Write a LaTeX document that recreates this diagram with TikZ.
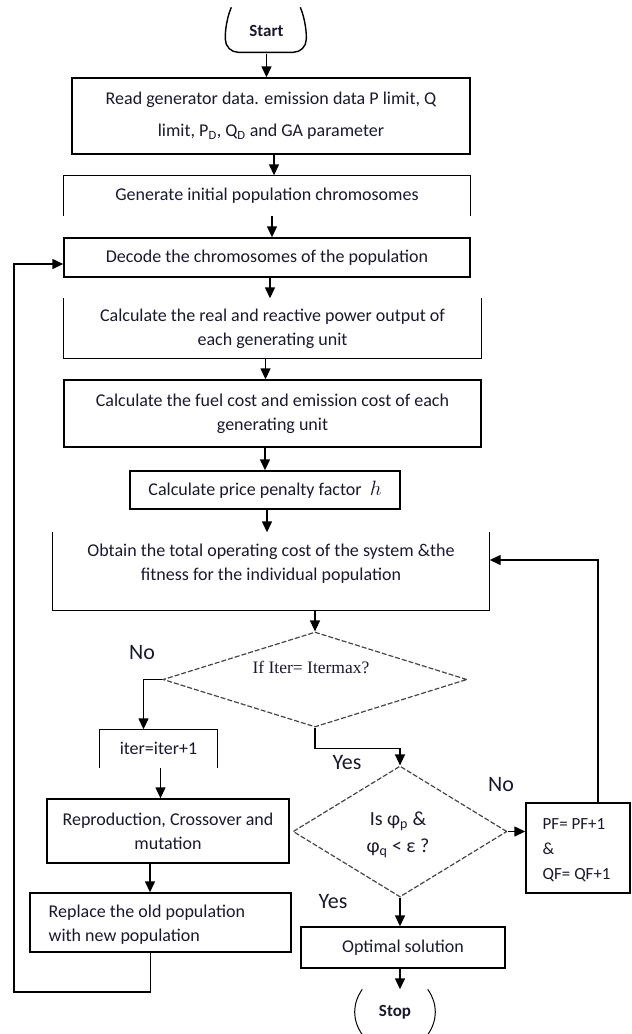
\documentclass[tikz,border=0pt]{standalone}
\usepackage{fontspec}
\setmainfont{Carlito}
\newfontfamily\timesf{Liberation Serif}
\usetikzlibrary{shapes.geometric,arrows.meta}
\definecolor{txt}{RGB}{25,25,45}
\definecolor{dgray}{RGB}{70,70,70}
\begin{document}
\begin{tikzpicture}[x=1pt,y=-1pt,line width=1.4pt,
  box/.style={rectangle,inner sep=0pt,align=center,text=txt,font=\fontsize{18}{24}\selectfont},
  dbox/.style={box,draw},
  dia/.style={diamond,draw=dgray,dashed,dash pattern=on 5pt off 2pt,line width=1.2pt,inner sep=0pt,aspect=1},
  lbl/.style={inner sep=0pt,text=txt,font=\fontsize{22}{26}\selectfont},
  term/.style={box,font=\fontsize{17}{20}\selectfont\bfseries},
  arr/.style={-{Triangle[width=10pt,length=11pt]}}]
\useasboundingbox (0,0) rectangle (632,1034);
% Start / Stop
\node[term,minimum width=81pt,minimum height=45pt] (start) at (266.5,30.5) {Start};
\draw[rounded corners=13pt] (start.north west) ++(6,0) -- ++(-6,16) -- ++(0,29) -- ++(81,0) -- ++(0,-29) -- ++(-6,-16);
\node[term,minimum width=74pt,minimum height=44pt] (stop) at (395,1012) {Stop};
\draw[line width=1pt] ([xshift=5pt]stop.north west) to[bend right=35] ([xshift=5pt]stop.south west);
\draw[line width=1pt] ([xshift=-5pt]stop.north east) to[bend left=35] ([xshift=-5pt]stop.south east);
% boxes
\node[dbox,minimum width=398pt,minimum height=76pt] (b1) at (271,116)
  {Read generator data. emission data P limit, Q\\[8pt] limit, P\textsubscript{D}, Q\textsubscript{D} and GA parameter};
\node[box,minimum width=406pt,minimum height=39pt] (b2) at (267,195.5) {Generate initial population chromosomes};
\draw (b2.south west) -- (b2.north west) -- (b2.north east) -- (b2.south east);
\node[dbox,minimum width=406pt,minimum height=39pt] (b3) at (267,257.5) {Decode the chromosomes of the population};
\node[box,minimum width=417pt,minimum height=59pt] (b4) at (272.5,328.5)
  {Calculate the real and reactive power output of\\ each generating unit};
\draw (b4.north west) -- (b4.south west) -- (b4.south east) -- (b4.north east);
\node[dbox,minimum width=417pt,minimum height=67pt] (b5) at (272.5,413.5)
  {Calculate the fuel cost and emission cost of each\\ generating unit};
\node[dbox,minimum width=270pt,minimum height=38pt] (b6) at (265,490)
  {Calculate price penalty factor \ {\fontsize{21}{24}\selectfont$h$}};
\node[box,minimum width=436pt,minimum height=77pt] (b7) at (271,571.5) {};
\node[box] (b7t) at (271,564) {Obtain the total operating cost of the system \&the\\ fitness for the individual population};
\draw (b7.north west) -- (b7.south west) -- (b7.south east) -- (b7.north east);
% decision 1
\node[dia,minimum width=304pt,minimum height=95pt] (d1) at (315,679.5) {};
\node[inner sep=0pt,text=txt,font=\timesf\fontsize{17.5}{20}\selectfont] (d1t) at (311,667) {If Iter= Itermax?};
\node[box,minimum width=117pt,minimum height=37pt,font=\fontsize{18}{20}\selectfont] (iter) at (158.5,748.5) {iter=iter+1};
\draw (iter.south west) -- (iter.north west) -- (iter.north east) -- (iter.south east);
\node[dbox,minimum width=242pt,minimum height=64pt] (rep) at (168,831)
  {Reproduction, Crossover and\\ mutation};
\node[dbox,minimum width=261pt,minimum height=59pt] (repl) at (160.5,922.5) {};
\node[box,align=left,anchor=west] (replt) at (48,925) {Replace the old population\\ with new population};
% decision 2
\node[dia,minimum width=214pt,minimum height=131pt] (d2) at (400,831.5) {};
\node[box,font=\fontsize{20}{27}\selectfont] (d2t) at (398,834.5) {Is φ\textsubscript{p} \&\\ φ\textsubscript{q} < ε ?};
\node[dbox,minimum width=104pt,minimum height=90pt] (pf) at (578,848) {};
\node[box,align=left,anchor=west,font=\fontsize{17}{25}\selectfont] (pft) at (542,850) {PF= PF+1\\ \&\\ QF= QF+1};
\node[dbox,minimum width=204pt,minimum height=41pt] (opt) at (403,947.5) {Optimal solution};
% labels
\node[lbl] (no1) at (142,653) {No};
\node[lbl] (yes1) at (347,763) {Yes};
\node[lbl] (no2) at (501,785) {No};
\node[lbl] (yes2) at (333,902) {Yes};
% connectors
\draw[arr] (start.south) -- (start.south |- b1.north);
\draw[arr] ([xshift=3pt]b1.south) -- ([xshift=3pt]b1.south |- b2.north);
\draw[arr] ([xshift=5pt]b2.south) -- ([xshift=5pt]b2.south |- b3.north);
\draw[arr] ([xshift=3pt]b3.south) -- ([xshift=3pt]b3.south |- b4.north);
\draw[arr] ([xshift=-7pt]b4.south) -- ([xshift=-7pt]b4.south |- b5.north);
\draw[arr] (b6.north |- b5.south) -- (b6.north);
\draw[arr] ([xshift=2pt]b6.south) -- ([xshift=2pt]b6.south |- b7.north);
\draw[arr] (d1.north |- b7.south) -- (d1.north);
\draw[arr] (d1.west) -| ([xshift=-15pt]iter.north);
\draw[arr] ([xshift=2pt]iter.south) -- ([xshift=2pt]iter.south |- rep.north);
\draw[arr] ([xshift=-18pt]rep.south) -- ([xshift=-18pt]rep.south |- repl.north);
\coordinate (fbl) at (14,992);
\draw[arr] ([xshift=-10pt]repl.south) |- (fbl) |- ([yshift=-6.5pt]b3.west);
\draw[arr] (d1.south) -- ++(0,21) -| (d2.north);
\draw[arr] (d2.east) -- (d2.east -| pf.west);
\draw[arr] ([xshift=20pt]pf.north) |- ([yshift=11.5pt]b7.east);
\draw[arr] (d2.south) -- (d2.south |- opt.north);
\draw[arr] (d2.south |- opt.south) -- (d2.south |- stop.north);
\end{tikzpicture}
\end{document}
